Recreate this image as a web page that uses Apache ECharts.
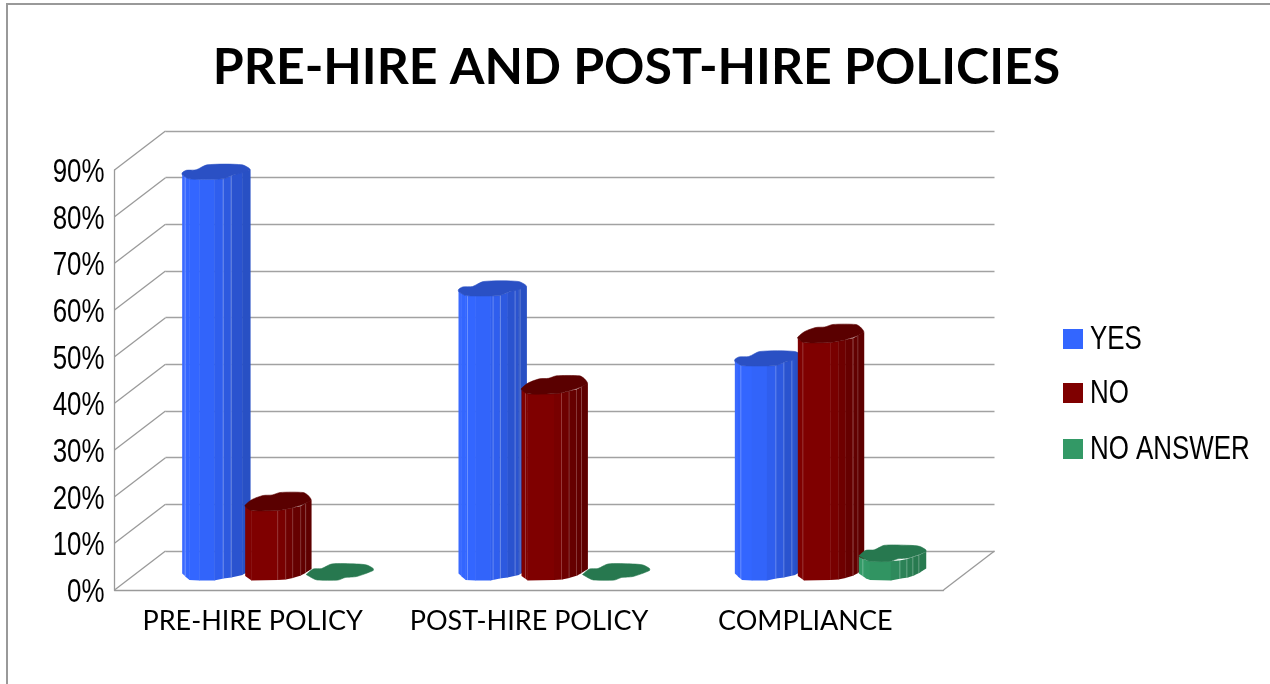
<!DOCTYPE html>
<html>
<head>
<meta charset="utf-8">
<style>html,body{margin:0;padding:0;background:#fff}#chart{width:1270px;height:684px}</style>
<script src="https://cdn.jsdelivr.net/npm/echarts@6/dist/echarts.min.js"></script>
</head>
<body>
<div id="chart"></div>
<script>
// Survey results
const categories = ['PRE-HIRE POLICY', 'POST-HIRE POLICY', 'COMPLIANCE'];
const seriesNames = ['YES', 'NO', 'NO ANSWER'];
const yesValues = [85, 60, 45];
const noValues = [15, 40, 51];
const noAnswerValues = [0, 0, 4];
const yTicks = [0, 10, 20, 30, 40, 50, 60, 70, 80, 90];
const seriesColors = ['#3366ff', '#7f0000', '#339966'];

// Pseudo-3D box: the floor recedes by this offset from the front plane to the back wall
const DEPTH_X = 51;
const DEPTH_Y = 39;
const BAR_PITCH = 62;

// The tall, tight sans of the axis and key text: a regular face squeezed horizontally
const SQUEEZED_FONT = { fontFamily: '"Liberation Sans", sans-serif', fontSize: 33, fill: '#000' };
const SQUEEZE = 0.785;

// Faceted column looks. rim rows are [dx, top rim dy, bottom rim dy], top is the cap outline,
// lines holds the dx of the pale facet edges for each category.
const yesLook = {
  cap: '#2a50c4', line: 'rgba(255,255,255,0.28)',
  lines: [[-31, 7, 15], [-25, 0.6, 8, 22.6, 27.6], [-28, 7, 15, 23]],
  strips: ['#3a6aff', '#3366ff', '#3366ff', '#3264fa', '#2f5eee', '#2d59df', '#2a53cf', '#2850c4'],
  rim: [[-34, 1, 3], [-31, 3, 6], [-27, 5, 9.5], [-17, 5.5, 10], [-2, 5.5, 10], [7, 5, 8], [15, 2, 7], [26, -2, 4.5], [34, -4, 0]],
  top: [[-34, -1], [-30, -3.5], [-20, -4], [-9, -9], [26, -9], [34, -4], [15, 2], [7, 5], [-17, 5.5], [-27, 5], [-31, 3], [-34, 1]]
};
const noLook = {
  cap: '#5a0000', line: 'rgba(255,255,255,0.22)',
  lines: [[-0.5, 7.5, 14.5, 22.5, 27.5], [-29, 7, 14.6, 22, 27], [-28, 22, 27]],
  strips: ['#7f0000', '#7f0000', '#780000', '#6e0000', '#660000', '#620000', '#5e0000'],
  rim: [[-33, 6, 5.5], [-27, 10, 10], [-0.5, 10, 9.5], [7.5, 8.8, 9], [14.5, 7.2, 7.5], [22.5, 5.5, 5], [27, 3, 2.5], [33, -0.5, -1.5]],
  top: [[-33, 4.5], [-26, -1], [-15, -5], [-6, -5.5], [2, -8], [25, -8], [29.5, -5.5], [33, -0.5], [27, 3], [14.5, 7.2], [7.5, 8.8], [-0.5, 10], [-27, 10], [-33, 6]]
};
const noAnswerLook = {
  cap: '#27784f', line: 'rgba(255,255,255,0.3)',
  lines: [[], [], [-30, 7, 14, 20, 26]],
  strips: ['#349b68', '#339966', '#319462', '#2e8a5c', '#2c8257', '#2a7e53', '#287a50', '#287a50'],
  rim: [[-34, 5, 3], [-27, 8.5, 8], [-23, 9.5, 9.5], [-2, 9.5, 10], [8, 8.3, 8], [15, 7, 7], [21, 5, 5], [27, 3, 2], [33, 0, -2]],
  top: [[-34, 4], [-27, -1.5], [-18.5, -2], [-8.5, -6.5], [16.5, -6.5], [26.5, -5.5], [33, -2], [33, 0], [16.5, 6], [5, 7], [-2, 9.5], [-23, 9.5], [-27, 8], [-34, 4]]
};

// Rim offsets at any dx along the front of a column
function rimAt(rim, dx) {
  for (let i = 0; i < rim.length - 1; i++) {
    const a = rim[i];
    const b = rim[i + 1];
    if (dx <= b[0]) {
      const t = (dx - a[0]) / (b[0] - a[0]);
      return [a[1] + (b[1] - a[1]) * t, a[2] + (b[2] - a[2]) * t];
    }
  }
  return [rim[rim.length - 1][1], rim[rim.length - 1][2]];
}

// Draws one column of a series, standing at mid depth on the floor
function columnRenderer(seriesOffset, look) {
  return function (params, api) {
    const category = api.value(0);
    const value = api.value(1);
    const topPt = api.coord([category, value]);
    const basePt = api.coord([category, 0]);
    const cx = topPt[0] + seriesOffset * BAR_PITCH + DEPTH_X / 2;
    const topY = topPt[1] - DEPTH_Y / 2;
    const baseY = basePt[1] - DEPTH_Y / 2;
    const children = [];
    if (value > 0) {
      for (let i = 0; i < look.rim.length - 1; i++) {
        const a = look.rim[i];
        const b = look.rim[i + 1];
        children.push({
          type: 'polygon',
          shape: { points: [[cx + a[0], topY + a[1]], [cx + b[0] + 0.4, topY + b[1]], [cx + b[0] + 0.4, baseY + b[2]], [cx + a[0], baseY + a[2]]] },
          style: { fill: look.strips[i] }
        });
      }
      look.lines[category].forEach(function (dx) {
        const r = rimAt(look.rim, dx);
        children.push({
          type: 'line',
          shape: { x1: cx + dx, y1: topY + r[0], x2: cx + dx, y2: baseY + r[1] },
          style: { stroke: look.line, lineWidth: 1 }
        });
      });
    }
    children.push({
      type: 'polygon',
      shape: { points: look.top.map(function (p) { return [cx + p[0], topY + p[1]]; }), smooth: 0.25 },
      style: { fill: look.cap, stroke: look.cap, lineWidth: 0.6, lineJoin: 'round' }
    });
    return { type: 'group', children: children };
  };
}

// Side wall and floor edges that join the front plane to the back wall, plus the tick label
function wallRenderer(params, api) {
  const tick = api.value(0);
  const y = api.coord([0, tick])[1];
  const sys = params.coordSys;
  const wall = { stroke: '#9a9a9a', lineWidth: 1.3 };
  const children = [{
    type: 'line',
    shape: { x1: sys.x, y1: y, x2: sys.x + DEPTH_X, y2: y - DEPTH_Y },
    style: wall
  }, {
    type: 'text',
    x: sys.x - 10,
    y: y + 3,
    scaleX: SQUEEZE,
    style: Object.assign({ text: tick + '%', textAlign: 'right', textVerticalAlign: 'middle' }, SQUEEZED_FONT)
  }];
  if (tick === 0) {
    children.push({
      type: 'line',
      shape: { x1: sys.x + sys.width, y1: y, x2: sys.x + sys.width + DEPTH_X, y2: y - DEPTH_Y },
      style: wall
    });
  }
  return { type: 'group', children: children };
}

function columnSeries(name, values, color, offset, look) {
  return {
    name: name,
    type: 'custom',
    xAxisIndex: 0,
    yAxisIndex: 0,
    coordinateSystem: 'cartesian2d',
    clip: false,
    z: 5,
    itemStyle: { color: color },
    encode: { x: 0, y: 1 },
    data: values.map(function (v, i) { return [i, v]; }),
    renderItem: columnRenderer(offset, look)
  };
}

// Key on the right: swatch tops per entry, labels centred on the swatches
const keySwatchTops = [329, 383, 439];
const keyGraphics = [];
seriesNames.forEach(function (name, i) {
  keyGraphics.push({
    type: 'rect', silent: true, x: 1063, y: keySwatchTops[i],
    shape: { width: 20, height: 20 },
    style: { fill: seriesColors[i] }
  });
  keyGraphics.push({
    type: 'text', silent: true, x: 1090, y: keySwatchTops[i] + 10.5, scaleX: SQUEEZE,
    style: Object.assign({ text: name, textAlign: 'left', textVerticalAlign: 'middle' }, SQUEEZED_FONT)
  });
});

const chart = echarts.init(document.getElementById('chart'), null, { renderer: 'canvas' });
chart.setOption({
  animation: false,
  backgroundColor: '#ffffff',
  title: {
    text: 'PRE-HIRE AND POST-HIRE POLICIES',
    left: 631.5,
    top: 38,
    textAlign: 'center',
    textStyle: { fontFamily: 'Lato', fontWeight: 'bold', fontSize: 50, color: '#000' }
  },
  grid: [
    { left: 114.5, top: 170, width: 829, height: 420, containLabel: false },
    { left: 165.5, top: 131, width: 829, height: 420, containLabel: false }
  ],
  xAxis: [
    {
      type: 'category', gridIndex: 0, data: categories,
      axisLine: { lineStyle: { color: '#9a9a9a', width: 1.3 } },
      axisTick: { show: false },
      axisLabel: { interval: 0, fontFamily: 'Lato', fontSize: 27, color: '#000', margin: 18 }
    },
    {
      type: 'category', gridIndex: 1, data: categories,
      axisLine: { show: false }, axisTick: { show: false }, axisLabel: { show: false }
    }
  ],
  yAxis: [
    {
      type: 'value', gridIndex: 0, min: 0, max: 90, interval: 10,
      axisLine: { show: true, lineStyle: { color: '#9a9a9a', width: 1.3 } },
      axisTick: { show: false },
      splitLine: { show: false },
      axisLabel: { show: false }
    },
    {
      type: 'value', gridIndex: 1, min: 0, max: 90, interval: 10,
      axisLine: { show: false }, axisTick: { show: false }, axisLabel: { show: false },
      splitLine: { show: true, lineStyle: { color: '#a2a2a2', width: 1.4 } }
    }
  ],
  series: [
    {
      name: 'walls', type: 'custom', xAxisIndex: 0, yAxisIndex: 0, clip: false, z: 1, silent: true,
      encode: { y: 0 },
      data: yTicks.map(function (t) { return [t]; }),
      renderItem: wallRenderer
    },
    columnSeries(seriesNames[0], yesValues, seriesColors[0], -1, yesLook),
    columnSeries(seriesNames[1], noValues, seriesColors[1], 0, noLook),
    columnSeries(seriesNames[2], noAnswerValues, seriesColors[2], 1, noAnswerLook)
  ],
  graphic: keyGraphics.concat([{
    type: 'polyline',
    silent: true,
    shape: { points: [[7, 684], [7, 4], [1270, 4]] },
    style: { stroke: '#999999', lineWidth: 2, fill: 'none' }
  }])
});
</script>
</body>
</html>
